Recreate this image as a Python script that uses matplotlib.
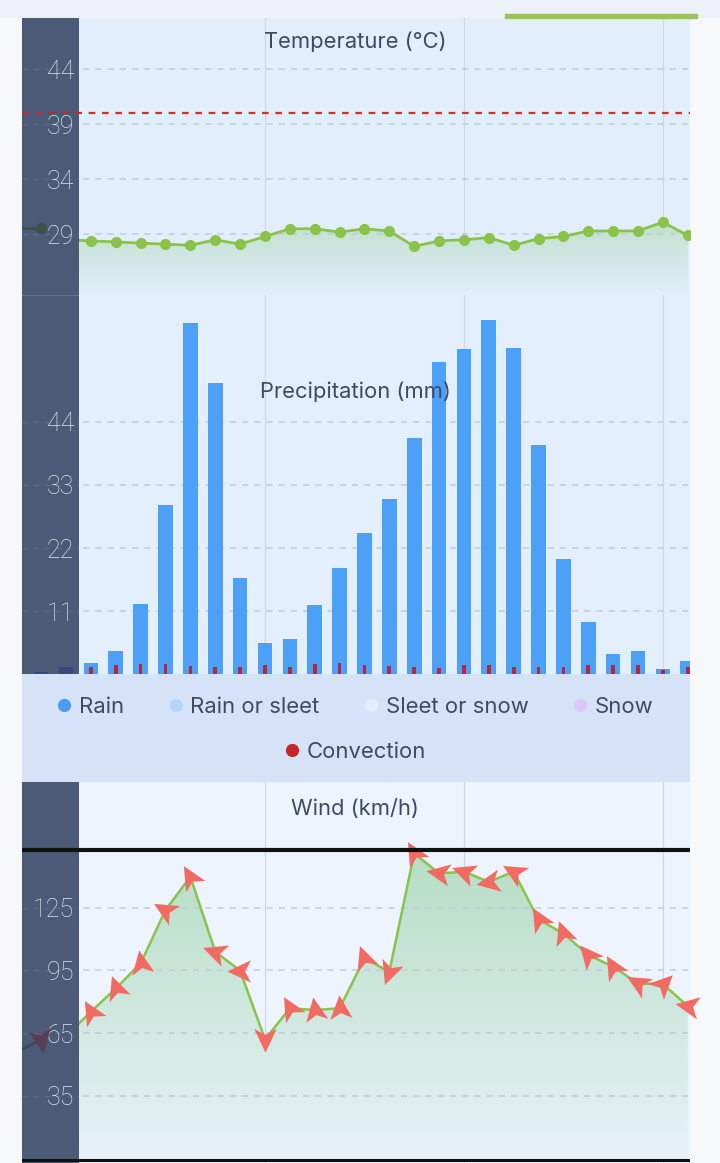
import numpy as np
import matplotlib
matplotlib.use('Agg')
import matplotlib.pyplot as plt
from matplotlib.colors import LinearSegmentedColormap
from matplotlib.lines import Line2D
from matplotlib.markers import MarkerStyle
from matplotlib.path import Path
from matplotlib.patches import Rectangle
from matplotlib.transforms import Affine2D

# ---- data (3-hourly steps, index 0 = first visible step, -1 hidden behind the axis column) ----
steps = np.arange(-1, 25)
temperature = [28.5, 28.4, 28.3, 28.2, 28.1, 28.0, 28.5, 28.1, 28.8, 29.5, 29.5, 29.2, 29.5, 29.3,
               27.9, 28.4, 28.5, 28.7, 28.0, 28.6, 28.8, 29.3, 29.3, 29.3, 30.1, 28.9]
temp_alert = 40
bar_steps = np.arange(25)
rain = [1.9, 4.1, 12.3, 29.5, 61.2, 50.7, 16.8, 5.5, 6.2, 12.1, 18.6, 24.7, 30.5,
        41.2, 54.4, 56.6, 61.8, 56.8, 39.9, 20.0, 9.1, 3.5, 4.1, 0.9, 2.3]
convection = [1.2, 1.6, 1.8, 1.8, 1.45, 1.3, 1.2, 1.6, 1.2, 1.8, 1.9, 1.6, 1.45,
              1.3, 1.1, 1.6, 1.7, 1.3, 1.3, 1.3, 1.6, 1.6, 1.6, 0.75, 1.3]
wind = [63.6, 75.3, 86.4, 98.4, 123.9, 139.8, 104.0, 94.9, 62.1, 76.9, 76.1, 76.9, 100.8, 94.4,
        151.0, 141.4, 142.2, 137.4, 142.2, 119.4, 112.7, 102.4, 96.8, 88.8, 88.5, 78.0]
wind_dir = [120, 110, 100, 150, 120, 160, 180, 270, 120, 100, 95, 110, 250,
            120, 170, 160, 190, 150, 120, 110, 130, 120, 150, 45, 170]

# steps already gone (seen through the dark axis column)
past_steps = [-3, -2]
past_temp = [29.6, 29.6]
past_wind = [56.0, 61.8]
past_wind_dir = 280
past_rain_steps = [-2, -1]
past_rain = [0.4, 1.2]

day_lines = [7, 15, 23]
temp_ticks = [29, 34, 39, 44]
rain_ticks = [11, 22, 33, 44]
wind_ticks = [35, 65, 95, 125]
legend_labels = ['Rain', 'Rain or sleet', 'Sleet or snow', 'Snow']
legend_colors = ['#4a9cf2', '#b4d6fb', '#e3edfd', '#dcc8f8']

W, H = 720, 1163
X0, X1 = -2.77, 24.09
XCOL = -0.478
TXT = '#3d4a66'
OVER = '#4b5a77'
FONT = ['Inter', 'DejaVu Sans']
TICKFONT = ['Roboto', 'DejaVu Sans']


def rect(x0, y0, x1, y1):
    return [x0 / W, 1 - y1 / H, (x1 - x0) / W, (y1 - y0) / H]


def gradient_under(ax, x, y, ybot, c_top, c_bot, z=1):
    poly = ax.fill_between(x, y, ybot, color='none', lw=0)
    cmap = LinearSegmentedColormap.from_list('g', [c_bot, c_top])
    grad = np.linspace(0, 1, 256).reshape(-1, 1)
    im = ax.imshow(grad, extent=[min(x), max(x), ybot, max(y)], origin='lower',
                   aspect='auto', cmap=cmap, zorder=z)
    im.set_clip_path(poly.get_paths()[0], transform=ax.transData)


def panel(y0, y1, ylim, bg, ticks):
    ax = fig.add_axes(rect(22, y0, 690, y1), facecolor=bg)
    ax.set_xlim(X0, X1)
    ax.set_ylim(*ylim)
    for s in ax.spines.values():
        s.set_visible(False)
    ax.set_xticks([])
    ax.set_yticks(ticks)
    ax.tick_params(axis='y', left=False, labelleft=False)
    ax.grid(axis='y', color='#c3ccd9', lw=1.1, ls=(0, (4, 4)))
    for d in day_lines:
        ax.axvline(d, color='#cfd9e6', lw=0.9, zorder=0.5)
    ov = fig.add_axes(rect(22, y0, 79, y1), facecolor=OVER, sharey=ax)
    ov.set_xlim(X0, XCOL)
    for s in ov.spines.values():
        s.set_visible(False)
    ov.set_xticks([])
    ov.tick_params(axis='y', left=False, labelleft=True, pad=-41,
                   labelcolor='#dfe4ec', labelsize=18)
    for lab in ov.get_yticklabels():
        lab.set_fontfamily(TICKFONT)
        lab.set_fontweight('light')
    ov.grid(axis='y', color='#5b6883', lw=1.0, ls=(0, (4, 4)))
    return ax, ov


fig = plt.figure(figsize=(W / 100, H / 100), dpi=100, facecolor='#f7f8fa')
fig.patches.append(Rectangle((0, 1 - 17 / H), 1, 17 / H, transform=fig.transFigure,
                             color='#eef1f7', zorder=-1))
fig.patches.append(Rectangle((505 / W, 1 - 17.5 / H), 192 / W, 4 / H,
                             transform=fig.transFigure, color='#9cc35a', zorder=5))

# ---- temperature ----
ax_t, ov_t = panel(18, 295, (23.48, 48.66), '#e2eefc', temp_ticks)
gradient_under(ax_t, steps, temperature, 23.48, '#c0e1cd', '#e2eefc')
ax_t.plot(steps, temperature, color='#8bc34a', lw=2, marker='o', ms=7, zorder=3)
ax_t.axhline(temp_alert, color='#d32f2f', lw=1.6, ls=(0, (3, 3)), zorder=4)
ov_t.axhline(temp_alert, color='#c0283a', lw=1.6, ls=(0, (3, 3)), zorder=4)
ov_t.plot(past_steps, past_temp, color='#3b5448', lw=2, zorder=3)
ov_t.plot(past_steps[-1], past_temp[-1], 'o', color='#3b5448', ms=7, zorder=3)
fig.text(355 / W, 1 - 42 / H, 'Temperature (°C)', ha='center', va='center',
         fontsize=15.8, color=TXT, family=FONT)

# ---- precipitation ----
ax_p, ov_p = panel(295, 674.3, (0, 66.07), '#e3effd', rain_ticks)
ax_p.bar(bar_steps, rain, width=0.59, color='#4da0f7', zorder=2)
ax_p.bar(bar_steps, convection, width=0.15, color='#b3283f', zorder=3)
ov_p.bar(past_rain_steps, past_rain, width=0.59, color='#34497c', zorder=2)
ov_p.axhline(66.0, color='#6d7a94', lw=1.2)
fig.text(355 / W, 1 - 392 / H, 'Precipitation (mm)', ha='center', va='center',
         fontsize=15.8, color=TXT, family=FONT, zorder=10)

# ---- legend strip ----
ax_l = fig.add_axes(rect(22, 674.3, 690, 782), facecolor='#d6e2f8')
ax_l.set_xticks([])
ax_l.set_yticks([])
for s in ax_l.spines.values():
    s.set_visible(False)
handles = [Line2D([], [], ls='', marker='o', ms=8.5, color=c) for c in legend_colors]
leg1 = ax_l.legend(handles, legend_labels, ncol=4, loc='center', bbox_to_anchor=(0.5, 0.70),
                   frameon=False, handlelength=0.5, handletextpad=0.4, columnspacing=2.1,
                   prop={'family': FONT, 'size': 15.9}, labelcolor=TXT, borderpad=0,
                   borderaxespad=0)
ax_l.add_artist(leg1)
ax_l.legend([Line2D([], [], ls='', marker='o', ms=8.5, color='#c62828')], ['Convection'],
            loc='center', bbox_to_anchor=(0.5, 0.28), frameon=False, handlelength=0.5,
            handletextpad=0.4, prop={'family': FONT, 'size': 15.9}, labelcolor=TXT,
            borderpad=0, borderaxespad=0)

# ---- wind ----
w_lo, w_hi = 2.97, 185.1
ax_w, ov_w = panel(782, 1163, (w_lo, w_hi), '#edf4fd', wind_ticks)
gradient_under(ax_w, steps, wind, 4.4, '#b6dec6', '#e8f2f8')
ax_w.plot(steps, wind, color='#8bc34a', lw=1.8, zorder=3)
arrow = Path([(1, 0), (-0.8, 0.85), (-0.35, 0), (-0.8, -0.85), (1, 0)],
             [Path.MOVETO, Path.LINETO, Path.LINETO, Path.LINETO, Path.CLOSEPOLY])
for x, v, a in zip(bar_steps, wind[1:], wind_dir):
    m = MarkerStyle(arrow, transform=Affine2D().rotate_deg(a))
    ax_w.plot(x, v, ls='', marker=m, ms=19, color='#f26b63', mec='none', zorder=4,
              clip_on=False)
ov_w.plot(past_steps, past_wind, color='#3b4a55', lw=1.8, zorder=3)
ov_w.plot(past_steps[-1], past_wind[-1], ls='',
          marker=MarkerStyle(arrow, transform=Affine2D().rotate_deg(past_wind_dir)),
          ms=19, color='#5a3d55', mec='none', zorder=4)
for a in (ax_w, ov_w):
    a.axhline(152.6, color='#111111', lw=3, zorder=5)
    a.axhline(4.4, color='#111111', lw=2.2, zorder=5)
fig.text(355 / W, 1 - 809 / H, 'Wind (km/h)', ha='center', va='center',
         fontsize=15.8, color=TXT, family=FONT)

fig.savefig('out.png', dpi=100, facecolor=fig.get_facecolor())
